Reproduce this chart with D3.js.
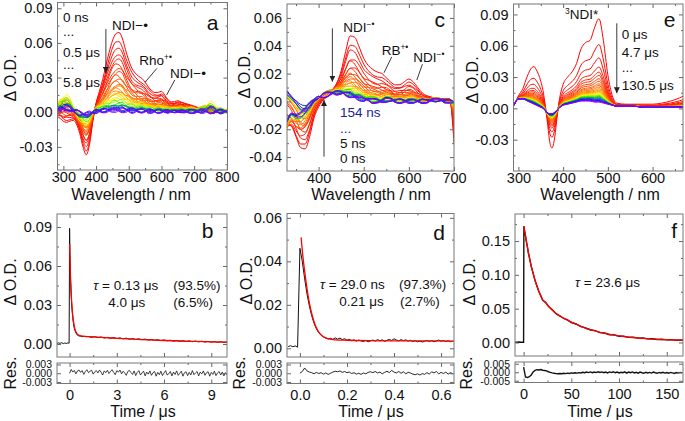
<!DOCTYPE html>
<html>
<head>
<meta charset="utf-8">
<script src="https://cdn.jsdelivr.net/npm/d3@7"></script>
<style>
  body { margin: 0; background: #fff; }
  svg text { font-family: "Liberation Sans", Arial, sans-serif; }
</style>
</head>
<body>
<div id="chart"></div>
<script>
// ---------- panel a : transient spectra (Rho / NDI) ----------
const wlA = [280,290,300,310,320,330,340,350,360,370,380,390,400,410,420,430,440,450,460,470,
  480,490,500,510,520,530,540,550,560,570,580,590,600,610,620,630,640,650,660,670,
  680,690,700,710,720,730,740,750,760,770,780,790,800];
const ndiA = [-0.004,-0.005,-0.008,-0.009,-0.008,-0.007,-0.010,-0.018,-0.030,-0.037,-0.028,-0.008,0.008,0.018,0.028,0.040,0.052,0.062,0.068,0.069,
  0.064,0.054,0.045,0.038,0.034,0.031,0.029,0.026,0.022,0.019,0.017,0.017,0.018,0.015,0.011,0.009,0.009,0.010,0.009,0.008,
  0.007,0.006,0.005,0.004,0.003,0.002,0.001,0.000,0.000,0.000,0.000,0.000,0.000];
const lateA = [0.006,0.010,0.013,0.014,0.011,0.005,0.001,-0.003,-0.005,-0.005,-0.003,0.000,0.002,0.003,0.003,0.004,0.004,0.005,0.005,0.005,
  0.005,0.004,0.004,0.003,0.003,0.003,0.003,0.003,0.002,0.002,0.002,0.002,0.002,0.002,0.002,0.002,0.002,0.002,0.002,0.002,
  0.002,0.002,0.002,0.002,0.003,0.004,0.005,0.006,0.005,0.003,0.002,0.002,0.002];
const noiseA1 = [0.0010,-0.0015,0.0020,0.0025,0.0012,-0.0008,-0.0020,-0.0015,0.0003,0.0012,0.0008,-0.0005,-0.0010,0.0005,0.0015,0.0010,-0.0003,-0.0012,-0.0008,0.0008,
  0.0018,0.0005,-0.0010,-0.0015,-0.0003,0.0010,0.0013,0.0000,-0.0013,-0.0008,0.0008,0.0015,0.0003,-0.0010,-0.0005,0.0010,0.0008,-0.0008,-0.0015,-0.0003,
  0.0013,0.0018,0.0005,-0.0008,-0.0013,0.0003,0.0020,0.0025,0.0008,-0.0010,-0.0015,-0.0005,0.0008];
const noiseA2 = [-0.0020,0.0010,0.0015,-0.0005,-0.0018,-0.0010,0.0008,0.0015,0.0005,-0.0010,-0.0015,0.0003,0.0012,0.0008,-0.0006,-0.0012,0.0000,0.0010,0.0012,0.0002,
  -0.0010,-0.0012,0.0004,0.0012,0.0008,-0.0005,-0.0012,-0.0006,0.0008,0.0012,0.0003,-0.0010,-0.0012,0.0002,0.0012,0.0006,-0.0008,-0.0012,0.0000,0.0010,
  0.0008,-0.0006,-0.0015,-0.0008,0.0010,0.0020,0.0005,-0.0020,-0.0025,-0.0005,0.0012,0.0010,-0.0003];
// amplitude of each trace (0 ns ... 5.8 us)
const ampA = [1,0.88,0.79,0.71,0.64,0.58,0.52,0.47,0.42,0.38,0.34,0.30,0.27,0.24,0.21,0.18,
  0.16,0.14,0.12,0.10,0.085,0.07,0.06,0.05,0.04,0.03,0.025,0.02,0.015,0.01,0.005,0];
const lateAmpA = [0,0.1,0.15,0.2,0.25,0.3,0.35,0.4,0.45,0.5,0.55,0.6,0.65,0.7,0.8,0.85,
  0.9,1,1,0.95,0.85,0.75,0.65,0.55,0.45,0.4,0.35,0.3,0.3,0.25,0.25,0.2];
const kA1 = [0.1,-0.2,0.3,-0.2,0.8,-0.7,0.4,1,-0.6,0.2,-0.9,0.5,1,-0.4,-0.8,0.7,
  0.3,-1,0.8,-0.3,0.6,-0.7,0.9,-0.5,0.4,-1,0.9,-0.6,0.7,-0.8,0.5,-0.4];
const kA2 = [-0.1,0.2,0.1,-0.9,0.5,0.3,-0.6,0.1,0.9,-0.7,0.4,-0.2,0.6,0.8,-0.5,-0.3,
  1,0.2,-0.8,0.6,-0.4,0.9,0.1,-0.7,-0.9,0.5,0.3,0.8,-0.6,0.2,-1,0.7];

// ---------- panel c : transient spectra (RB / NDI) ----------
const wlC = [330,340,350,360,370,380,390,400,410,420,430,440,450,460,470,480,490,500,510,520,
  530,540,550,560,570,580,590,600,610,620,630,640,650,660,670,680,690,700];
const ndiC = [-0.016,-0.018,-0.026,-0.034,-0.035,-0.026,-0.012,-0.004,0.001,0.004,0.008,0.013,0.022,0.036,0.047,0.046,0.039,0.031,0.026,0.023,
  0.021,0.020,0.017,0.014,0.012,0.012,0.014,0.016,0.014,0.010,0.006,0.004,0.003,0.002,0.002,0.002,0.002,-0.030];
const lateC = [-0.004,-0.003,-0.005,-0.006,-0.005,-0.002,0.001,0.003,0.004,0.005,0.006,0.006,0.006,0.005,0.004,0.003,0.002,0.001,0.001,0.000,
  0.000,0.000,0.001,0.001,0.000,0.000,0.000,0.000,0.000,0.000,0.000,0.000,0.001,0.001,0.001,0.000,0.000,0.000];
const noiseC1 = [0.0080,0.0050,0.0060,0.0055,0.0040,0.0020,0.0005,-0.0005,0.0010,0.0015,0.0008,-0.0005,-0.0008,0.0005,0.0012,0.0006,-0.0006,-0.0010,0.0000,0.0010,
  0.0012,0.0002,-0.0010,-0.0012,0.0000,0.0012,0.0010,-0.0004,-0.0012,-0.0006,0.0008,0.0012,0.0004,-0.0008,-0.0010,0.0002,0.0010,0.0006];
const noiseC2 = [-0.0060,-0.0030,0.0000,0.0030,0.0045,0.0040,0.0015,0.0005,-0.0010,-0.0005,0.0008,0.0012,0.0002,-0.0010,-0.0008,0.0006,0.0012,0.0004,-0.0008,-0.0012,
  -0.0002,0.0010,0.0010,-0.0002,-0.0012,-0.0008,0.0006,0.0012,0.0004,-0.0010,-0.0012,0.0000,0.0012,0.0008,-0.0006,-0.0012,-0.0004,0.0008];
const ampC = [1,0.85,0.75,0.62,0.55,0.48,0.42,0.37,0.33,0.29,0.26,0.23,0.20,0.18,0.16,
  0.14,0.12,0.10,0.085,0.07,0.06,0.05,0.04,0.03,0.02,0.015,0.01,0.005,0,0];
const lateAmpC = [0,0.2,0.3,0.4,0.5,0.6,0.7,0.8,0.9,1,1,1,1,1,1,
  1,1,1,1,1,1,1,1,1,1,1,1,1,1,1];
const kC1 = [0.1,-0.2,0.3,-0.5,0.6,-0.4,0.8,-0.7,0.5,-0.9,1,-0.6,0.7,-1,0.9,
  -0.8,0.6,-0.5,1,-0.9,0.8,-1,0.7,-0.6,1,-0.8,0.9,-1,0.6,-0.7];
const kC2 = [0.1,0.2,-0.2,0.5,-0.6,0.7,-0.3,0.4,-0.8,0.6,-0.5,0.9,-0.7,0.3,-0.4,
  1,-0.9,0.8,-0.2,0.5,-1,0.4,-0.6,0.9,-0.3,0.7,-0.8,0.2,-1,0.6];

// ---------- panel e : triplet spectra ----------
const wlE = [290,300,310,320,330,335,340,350,355,360,365,370,375,380,385,390,400,410,420,430,
  440,450,460,470,480,490,500,510,520,540,560,580,600,620,640,660,670];
const tripE = [0.000,0.003,0.010,0.024,0.034,0.036,0.034,0.025,0.017,0.005,-0.010,-0.027,-0.033,-0.027,-0.012,0.004,0.020,0.026,0.030,0.037,
  0.050,0.056,0.058,0.071,0.080,0.060,0.028,0.009,0.003,0.002,0.002,0.003,0.003,0.004,0.006,0.009,0.011];
const lateE = [0.003,0.009,0.009,0.007,0.005,0.004,0.003,0.001,0.000,-0.002,-0.004,-0.005,-0.005,-0.004,-0.002,0.000,0.003,0.004,0.005,0.006,
  0.007,0.007,0.007,0.006,0.006,0.005,0.004,0.003,0.002,0.002,0.002,0.001,0.001,0.001,0.001,0.001,0.001];
const ampE = [1,0.69,0.53,0.42,0.36,0.32,0.28,0.25,0.22,0.20,0.18,0.16,0.145,0.13,
  0.12,0.11,0.10,0.09,0.08,0.07,0.06,0.05,0.04,0.03,0.02,0.015,0.01,0];

// ---------- panel b : kinetics (us) ----------
const tB = [-0.8,-0.7,-0.6,-0.5,-0.4,-0.3,-0.2,-0.1,-0.03,0,0.03,0.06,0.1,0.15,0.2,0.25,0.3,0.4,0.5,0.6,0.7,0.8,0.9,1.0,
  1.2,1.4,1.6,1.8,2.0,2.2,2.4,2.6,2.8,3.0,3.2,3.4,3.6,3.8,4.0,4.2,4.4,4.6,4.8,5.0,5.2,5.4,5.6,5.8,6.0,
  6.2,6.4,6.6,6.8,7.0,7.2,7.4,7.6,7.8,8.0,8.2,8.4,8.6,8.8,9.0,9.2,9.4,9.6,9.8,10.0];
const traceB = [0.0004,0.0009,0.0005,0.0010,0.0003,0.0008,0.0004,0.0009,0.0006,0.0890,0.0640,0.0500,0.0380,0.0275,0.0205,0.0155,0.0120,0.0085,0.0068,0.0062,0.0060,0.0057,0.0060,0.0056,
  0.0058,0.0051,0.0056,0.0049,0.0054,0.0046,0.0051,0.0044,0.0050,0.0042,0.0047,0.0040,0.0045,0.0037,0.0042,0.0035,0.0040,0.0033,0.0038,0.0030,0.0035,0.0029,0.0033,0.0026,0.0031,
  0.0025,0.0029,0.0022,0.0027,0.0021,0.0025,0.0019,0.0024,0.0018,0.0022,0.0017,0.0021,0.0015,0.0020,0.0014,0.0018,0.0013,0.0017,0.0012,0.0016];
const tFitB = [0,0.05,0.1,0.15,0.2,0.3,0.4,0.5,0.6,0.8,1,1.5,2,3,4,5,6,7,8,9,10];
const fitB = [0.077,0.054,0.039,0.029,0.022,0.0135,0.0095,0.0076,0.0067,0.0061,0.0058,0.0055,0.0051,0.0044,0.0037,0.0032,0.0027,0.0023,0.0020,0.0017,0.0015];
const resStepB = 0.1;
const resB = [0.0000,0.0013,0.0004,0.0010,-0.0002,0.0008,0.0011,0.0003,0.0009,-0.0004,0.0006,0.0012,0.0002,0.0007,0.0010,-0.0003,0.0005,0.0009,0.0001,0.0011,
  0.0004,-0.0006,0.0008,0.0002,0.0010,-0.0001,0.0006,0.0012,0.0003,-0.0005,0.0009,0.0004,0.0011,-0.0002,0.0007,0.0001,-0.0007,0.0006,0.0010,0.0002,
  -0.0004,0.0008,-0.0008,0.0003,0.0009,-0.0006,0.0001,0.0007,-0.0009,0.0004,-0.0003,0.0008,-0.0007,0.0002,0.0006,-0.0010,0.0003,-0.0005,0.0007,-0.0008,
  0.0001,0.0009,-0.0006,-0.0002,0.0006,-0.0009,0.0004,-0.0004,0.0008,-0.0007,0.0000,0.0007,-0.0010,0.0002,0.0005,-0.0008,0.0003,-0.0006,0.0009,-0.0005,
  0.0001,0.0006,-0.0009,0.0004,-0.0002,0.0008,-0.0007,0.0002,0.0005,-0.0010,0.0003,-0.0004,0.0007,-0.0008,0.0001,0.0006,-0.0006,0.0004,-0.0009,0.0002,-0.0005];

// ---------- panel d : kinetics (us) ----------
const t0D = -0.05, stepD = 0.01;
const traceD = [0.0008,0.0012,0.0007,0.0011,0.0005,0.0460,0.0400,0.0320,0.0250,0.0195,0.0150,0.0115,0.0090,0.0072,0.0060,0.0052,0.0047,0.0043,0.0046,0.0041,
  0.0048,0.0042,0.0047,0.0040,0.0044,0.0037,0.0041,0.0035,0.0039,0.0033,0.0038,0.0034,0.0031,0.0036,0.0030,0.0034,0.0038,0.0033,0.0040,0.0035,
  0.0039,0.0032,0.0037,0.0041,0.0036,0.0044,0.0038,0.0034,0.0040,0.0035,0.0039,0.0033,0.0037,0.0031,0.0035,0.0030,0.0033,0.0029,0.0032,0.0036,
  0.0031,0.0035,0.0030,0.0034,0.0038,0.0033,0.0036,0.0031,0.0035,0.0030,0.0033];
const tFitD = [0.005,0.01,0.02,0.03,0.04,0.05,0.06,0.07,0.08,0.10,0.12,0.15,0.2,0.3,0.4,0.5,0.655];
const fitD = [0.051,0.045,0.0355,0.0275,0.021,0.016,0.0122,0.0094,0.0074,0.0053,0.0044,0.0039,0.0037,0.0035,0.0034,0.0034,0.0033];
const resStepD = 0.01;
const resD = [0.0000,0.0006,0.0018,0.0008,0.0004,0.0002,-0.0002,0.0003,-0.0001,0.0002,-0.0003,0.0001,-0.0004,0.0000,0.0004,0.0007,0.0005,0.0008,0.0003,0.0006,
  0.0002,0.0004,-0.0001,0.0002,-0.0003,0.0000,-0.0004,0.0001,-0.0002,0.0003,0.0005,0.0002,0.0006,0.0001,0.0004,-0.0002,0.0003,0.0007,0.0002,0.0010,
  0.0004,0.0001,0.0006,0.0000,0.0005,-0.0002,0.0003,0.0001,-0.0003,-0.0005,-0.0002,-0.0006,-0.0001,-0.0004,0.0002,-0.0003,0.0005,0.0001,0.0006,-0.0002,
  0.0003,-0.0001,0.0004,-0.0003,0.0002,-0.0002];

// ---------- panel f : kinetics (us) ----------
const tF = [-9,-7,-5,-3,-1,0,0.3,1,2,3,4,5,6,8,10,12,14,16,18,20,23,26,30,34,38,42,46,50,55,60,
  65,70,75,80,85,90,95,100,105,110,115,120,125,130,135,140,145,150,155,160,167];
const traceF = [0.0005,0.0003,0.0006,0.0004,0.0005,0.0004,0.1720,0.1655,0.1575,0.1485,0.1415,0.1325,0.1265,0.1125,0.1025,0.0915,0.0835,0.0755,0.0695,0.0625,
  0.0595,0.0535,0.0485,0.0425,0.0395,0.0355,0.0335,0.0295,0.0275,0.0235,0.0215,0.0185,0.0175,0.0145,0.0140,0.0115,0.0112,0.0093,0.0092,0.0076,
  0.0078,0.0064,0.0066,0.0053,0.0056,0.0045,0.0048,0.0038,0.0042,0.0033,0.0036];
const tFitF = [0.3,1,2,3,4,5,6,8,10,12,14,16,18,20,23,26,30,34,38,42,46,50,55,60,
  65,70,75,80,85,90,95,100,105,110,115,120,125,130,135,140,145,150,155,160,167];
const fitF = [0.1720,0.1655,0.1575,0.1490,0.1410,0.1330,0.1260,0.1130,0.1020,0.0920,0.0835,0.0755,0.0690,0.0630,0.0590,0.0540,0.0480,0.0430,0.0390,0.0360,
  0.0330,0.0300,0.0270,0.0240,0.0210,0.0190,0.0170,0.0150,0.0135,0.0120,0.0108,0.0097,0.0088,0.0080,0.0072,0.0066,0.0060,0.0055,0.0050,0.0047,
  0.0043,0.0041,0.0038,0.0036,0.0034];
const resStepF = 2;
const resF = [0.0030,-0.0028,-0.0031,-0.0026,-0.0016,0.0002,0.0011,0.0015,0.0013,0.0016,0.0012,0.0010,0.0008,0.0003,-0.0001,-0.0004,-0.0006,-0.0008,-0.0009,-0.0007,
  -0.0009,-0.0006,-0.0008,-0.0005,-0.0007,-0.0004,-0.0006,-0.0003,-0.0005,-0.0002,-0.0004,0.0000,-0.0003,0.0001,-0.0002,0.0002,-0.0003,0.0001,-0.0002,0.0003,
  -0.0001,0.0002,-0.0003,0.0001,-0.0004,0.0002,-0.0002,0.0003,-0.0003,0.0001,-0.0004,0.0000,-0.0003,0.0002,-0.0005,0.0001,-0.0003,0.0002,-0.0004,0.0000,
  -0.0005,0.0001,-0.0003,-0.0006,0.0000,-0.0004,-0.0001,-0.0005,0.0001,-0.0003,-0.0006,-0.0001,-0.0004,0.0000,-0.0005,-0.0002,-0.0006,-0.0001,-0.0004,-0.0007,
  -0.0002,-0.0005,-0.0001,-0.0004];

// ---------- drawing ----------
const W = 685, H = 421;
const svg = d3.select("#chart").append("svg").attr("width", W).attr("height", H);
const defs = svg.append("defs");
defs.append("marker").attr("id", "head").attr("viewBox", "0 0 10 10")
  .attr("refX", 10).attr("refY", 5).attr("markerWidth", 6).attr("markerHeight", 6)
  .attr("markerUnits", "userSpaceOnUse").attr("orient", "auto")
  .append("path").attr("d", "M0,0L10,5L0,10z").attr("fill", "#222");

const TICK_FS = 14.5, RES_FS = 10.5, TITLE_FS = 16, ANN_FS = 13.5;
const fmt = p => d => d3.format("." + p + "f")(d).replace("\u2212", "-");

// rainbow: red (early) -> violet (late)
const rainbow = d3.scaleLinear()
  .domain([0, 0.16, 0.48, 0.6, 0.72, 0.86, 1])
  .range(["#ff0000", "#ff2200", "#ff9c00", "#ffff00", "#00e000", "#1010ff", "#8a00ff"]);

let clipId = 0;
function makeFrame(o) {
  const x = d3.scaleLinear().domain(o.xDomain).range([o.left, o.right]);
  const y = d3.scaleLinear().domain(o.yDomain).range([o.bottom, o.top]);
  const id = "clip" + (clipId++);
  defs.append("clipPath").attr("id", id).append("rect")
    .attr("x", o.left).attr("y", o.top).attr("width", o.right - o.left).attr("height", o.bottom - o.top);
  const plot = svg.append("g").attr("clip-path", `url(#${id})`);
  return { x, y, plot, o };
}

function axisG(axis, tx, ty, fs) {
  return svg.append("g").attr("transform", `translate(${tx},${ty})`).call(axis)
    .attr("font-size", fs || TICK_FS).attr("font-family", null).attr("color", "#666")
    .call(g => g.select(".domain").remove())
    .call(g => g.selectAll("text").attr("fill", "#111"));
}

function drawAxes(p) {
  const { x, y, o } = p;
  axisG(d3.axisBottom(x).tickValues(o.xTicks).tickSize(-4).tickPadding(o.xPad || 1.5)
    .tickFormat(o.xLabels ? o.xFmt : ""), 0, o.bottom);
  axisG(d3.axisBottom(x).tickValues(o.xMinor).tickSize(-2).tickFormat(""), 0, o.bottom);
  axisG(d3.axisTop(x).tickValues(o.xTicks).tickSize(-4).tickFormat(""), 0, o.top);
  axisG(d3.axisTop(x).tickValues(o.xMinor).tickSize(-2).tickFormat(""), 0, o.top);
  axisG(d3.axisLeft(y).tickValues(o.yTicks).tickSize(-4).tickPadding(5).tickFormat(o.yFmt), o.left, 0, o.yFs);
  axisG(d3.axisLeft(y).tickValues(o.yMinor || []).tickSize(-2).tickFormat(""), o.left, 0);
  axisG(d3.axisRight(y).tickValues(o.yTicks).tickSize(-4).tickFormat(""), o.right, 0);
  axisG(d3.axisRight(y).tickValues(o.yMinor || []).tickSize(-2).tickFormat(""), o.right, 0);
  svg.append("rect").attr("x", o.left).attr("y", o.top)
    .attr("width", o.right - o.left).attr("height", o.bottom - o.top)
    .attr("fill", "none").attr("stroke", "#777").attr("stroke-width", 1);
}

function text(x, y, parts, opt = {}) {
  const t = svg.append("text").attr("x", x).attr("y", y)
    .attr("font-size", opt.size || ANN_FS).attr("fill", opt.fill || "#111")
    .attr("text-anchor", opt.anchor || "start");
  parts.forEach(pt => {
    if (typeof pt === "string") { t.append("tspan").text(pt); return; }
    const s = t.append("tspan").text(pt.t);
    if (pt.sup) s.attr("font-size", (opt.size || ANN_FS) * 0.62).attr("dy", -5);
    if (pt.down) s.attr("dy", 5);
    if (pt.it) s.attr("font-style", "italic");
  });
  return t;
}
function yTitle(x, y, s) {
  svg.append("text").attr("transform", `translate(${x},${y}) rotate(-90)`)
    .attr("text-anchor", "middle").attr("font-size", TITLE_FS).attr("fill", "#111").text(s);
}
function xTitle(x, y, s) {
  svg.append("text").attr("x", x).attr("y", y).attr("text-anchor", "middle")
    .attr("font-size", TITLE_FS).attr("fill", "#111").text(s);
}
function arrow(p, x0, y0, x1, y1, head = true) {
  svg.append("line").attr("x1", p.x(x0)).attr("y1", p.y(y0)).attr("x2", p.x(x1)).attr("y2", p.y(y1))
    .attr("stroke", "#222").attr("stroke-width", 0.9)
    .attr("marker-end", head ? "url(#head)" : null);
}

function drawSpectra(p, wl, main, late, amp, lateAmp, n1, n2, k1, k2) {
  const n = amp.length;
  const line = d3.line().x((d, i) => p.x(wl[i])).y(d => p.y(d)).curve(d3.curveMonotoneX);
  amp.forEach((a, j) => {
    const vals = wl.map((w, i) => a * main[i] + (lateAmp ? lateAmp[j] : 1) * late[i]
      + (n1 ? k1[j] * n1[i] + k2[j] * n2[i] : 0));
    p.plot.append("path").datum(vals).attr("d", line)
      .attr("fill", "none").attr("stroke", rainbow(j / (n - 1))).attr("stroke-width", 1);
  });
}

function drawKinetic(p, ts, ys, color, width) {
  const line = d3.line().x((d, i) => p.x(ts[i])).y(d => p.y(d));
  p.plot.append("path").datum(ys).attr("d", line).attr("fill", "none")
    .attr("stroke", color).attr("stroke-width", width);
}
function drawFit(p, ts, ys) {
  const line = d3.line().x((d, i) => p.x(ts[i])).y(d => p.y(d)).curve(d3.curveMonotoneX);
  p.plot.append("path").datum(ys).attr("d", line).attr("fill", "none")
    .attr("stroke", "#ff0000").attr("stroke-width", 1.3);
}
function drawRes(p, step, ys, width) {
  const line = d3.line().x((d, i) => p.x(i * step)).y(d => p.y(d));
  p.plot.append("path").datum(ys).attr("d", line).attr("fill", "none")
    .attr("stroke", "#111").attr("stroke-width", width);
}

// ----- panel a -----
const pa = makeFrame({ left: 57.5, right: 227.5, top: 2.5, bottom: 170, xDomain: [282, 802], yDomain: [-0.05, 0.095],
  xTicks: [300,400,500,600,700,800], xMinor: [350,450,550,650,750], xLabels: true, xFmt: d3.format("d"),
  yTicks: [-0.03,0,0.03,0.06,0.09], yMinor: [-0.045,-0.015,0.015,0.045,0.075], yFmt: fmt(2) });
drawSpectra(pa, wlA, ndiA, lateA, ampA, lateAmpA, noiseA1, noiseA2, kA1, kA2);
drawAxes(pa);

// ----- panel c -----
const pc = makeFrame({ left: 287, right: 454, top: 4, bottom: 171, xDomain: [330, 700], yDomain: [-0.05, 0.07],
  xTicks: [400,500,600,700], xMinor: [350,450,550,650], xLabels: true, xFmt: d3.format("d"),
  yTicks: [-0.04,-0.02,0,0.02,0.04,0.06], yMinor: [-0.03,-0.01,0.01,0.03,0.05], yFmt: fmt(2) });
drawSpectra(pc, wlC, ndiC, lateC, ampC, lateAmpC, noiseC1, noiseC2, kC1, kC2);
drawAxes(pc);

// ----- panel e -----
const pe = makeFrame({ left: 513.5, right: 683, top: 4, bottom: 171, xDomain: [289, 668], yDomain: [-0.06, 0.10],
  xTicks: [300,400,500,600], xMinor: [350,450,550,650], xLabels: true, xFmt: d3.format("d"),
  yTicks: [-0.03,0,0.03,0.06,0.09], yMinor: [-0.045,-0.015,0.015,0.045,0.075], yFmt: fmt(2) });
drawSpectra(pe, wlE, tripE, lateE, ampE, null, null, null, null, null);
drawAxes(pe);

// ----- panel b -----
const pb = makeFrame({ left: 57, right: 227, top: 214, bottom: 357, xDomain: [-0.8, 10], yDomain: [-0.01, 0.10],
  xTicks: [0,3,6,9], xMinor: [1.5,4.5,7.5], xLabels: false,
  yTicks: [0,0.03,0.06,0.09], yMinor: [0.015,0.045,0.075], yFmt: fmt(2) });
drawKinetic(pb, tB, traceB, "#111", 1);
drawFit(pb, tFitB, fitB);
drawAxes(pb);
const rb = makeFrame({ left: 57, right: 227, top: 363, bottom: 383.5, xDomain: [-0.8, 10], yDomain: [-0.0035, 0.0035],
  xTicks: [0,3,6,9], xMinor: [1.5,4.5,7.5], xLabels: true, xFmt: d3.format("d"), xPad: 6,
  yTicks: [-0.003,0,0.003], yFmt: fmt(3), yFs: RES_FS });
drawRes(rb, resStepB, resB, 0.8);
drawAxes(rb);

// ----- panel d -----
const pd = makeFrame({ left: 287, right: 454, top: 213.5, bottom: 357, xDomain: [-0.055, 0.655], yDomain: [-0.004, 0.062],
  xTicks: [0,0.2,0.4,0.6], xMinor: [0.1,0.3,0.5], xLabels: false,
  yTicks: [0,0.02,0.04,0.06], yMinor: [0.01,0.03,0.05], yFmt: fmt(2) });
drawKinetic(pd, traceD.map((d, i) => t0D + i * stepD), traceD, "#111", 1);
drawFit(pd, tFitD, fitD);
drawAxes(pd);
const rd = makeFrame({ left: 287, right: 454, top: 363, bottom: 383.5, xDomain: [-0.055, 0.655], yDomain: [-0.0035, 0.0035],
  xTicks: [0,0.2,0.4,0.6], xMinor: [0.1,0.3,0.5], xLabels: true, xFmt: fmt(1), xPad: 6,
  yTicks: [-0.003,0,0.003], yFmt: fmt(3), yFs: RES_FS });
drawRes(rd, resStepD, resD, 0.9);
drawAxes(rd);

// ----- panel f -----
const pf = makeFrame({ left: 515, right: 683, top: 214, bottom: 356, xDomain: [-9, 167], yDomain: [-0.02, 0.19],
  xTicks: [0,50,100,150], xMinor: [25,75,125], xLabels: false,
  yTicks: [0,0.05,0.10,0.15], yMinor: [0.025,0.075,0.125,0.175], yFmt: fmt(2) });
drawKinetic(pf, tF, traceF, "#111", 1.4);
drawFit(pf, tFitF, fitF);
drawAxes(pf);
const rf = makeFrame({ left: 515, right: 683, top: 362, bottom: 382.5, xDomain: [-9, 167], yDomain: [-0.006, 0.006],
  xTicks: [0,50,100,150], xMinor: [25,75,125], xLabels: true, xFmt: d3.format("d"), xPad: 6,
  yTicks: [-0.005,0,0.005], yFmt: fmt(3), yFs: RES_FS });
drawRes(rf, resStepF, resF, 1.4);
drawAxes(rf);

// ----- titles -----
yTitle(15.5, 78, "\u0394 O.D.");
yTitle(250, 75, "\u0394 O.D.");
yTitle(478, 80, "\u0394 O.D.");
yTitle(15.5, 282, "\u0394 O.D.");
yTitle(252, 281, "\u0394 O.D.");
yTitle(475, 282, "\u0394 O.D.");
yTitle(15.5, 373, "Res.");
yTitle(245, 373, "Res.");
yTitle(472, 373, "Res.");
xTitle(131, 199.5, "Wavelength / nm");
xTitle(371, 199.5, "Wavelength / nm");
xTitle(600, 199.5, "Wavelength / nm");
xTitle(143, 417, "Time / \u03bcs");
xTitle(371, 417, "Time / \u03bcs");
xTitle(600, 417, "Time / \u03bcs");

// panel letters
[["a", 218.5, 30], ["c", 445, 26.7], ["e", 675.5, 26.7], ["b", 213.5, 238.3], ["d", 445, 240], ["f", 677, 238.3]]
  .forEach(([s, x, y]) => text(x, y, [s], { size: 21, anchor: "end" }));

// ----- annotations a -----
text(63, 21.5, ["0 ns"]);
text(63, 36, ["..."]);
text(63, 56.5, ["0.5 \u03bcs"]);
text(63, 69, ["..."]);
text(63, 86.5, ["5.8 \u03bcs"]);
text(112, 30, ["NDI\u2212\u2022"]);
text(139.3, 65, ["Rho", { t: "+\u2022", sup: true }]);
text(170, 78.3, ["NDI\u2212\u2022"]);
arrow(pa, 430, 0.072, 430, 0.034);
arrow(pa, 586, 0.038, 550, 0.026, false);
arrow(pa, 641, 0.028, 616, 0.015, false);

// ----- annotations c -----
text(343.3, 31.7, ["NDI", { t: "\u2212\u2022", sup: true }]);
text(381.7, 55, ["RB", { t: "+\u2022", sup: true }]);
text(413.3, 61.7, ["NDI", { t: "\u2212\u2022", sup: true }]);
text(340, 116.7, ["154 ns"], { fill: "#1c1c9c" });
text(340, 132.7, ["..."], { fill: "#1c1c9c" });
text(340, 148.3, ["5 ns"]);
text(340, 163.3, ["0 ns"]);
arrow(pc, 430.5, 0.0525, 430.5, 0.0142);
arrow(pc, 412, -0.0397, 412, 0.001);
arrow(pc, 562, 0.032, 545, 0.0206, false);
arrow(pc, 630, 0.0267, 617.6, 0.0154, false);

// ----- annotations e -----
text(565, 19.3, [{ t: "3", sup: true }, { t: "NDI*", down: true }]);
text(621.7, 39.3, ["0 \u03bcs"]);
text(621.7, 57.3, ["4.7 \u03bcs"]);
text(621.7, 71.7, ["..."]);
text(621.7, 90, ["130.5 \u03bcs"]);
arrow(pe, 520, 0.0815, 520, 0.0145);

// ----- annotations b, d, f -----
text(93.3, 290, [{ t: "\u03c4", it: true }, " = 0.13 \u03bcs"]);
text(173.3, 290, ["(93.5%)"]);
text(108.3, 306.7, ["4.0 \u03bcs"]);
text(173.3, 306.7, ["(6.5%)"]);
text(320, 289, [{ t: "\u03c4", it: true }, " = 29.0 ns"]);
text(399, 289, ["(97.3%)"]);
text(339.3, 305.7, ["0.21 \u03bcs"]);
text(400, 305.7, ["(2.7%)"]);
text(575, 287.3, [{ t: "\u03c4", it: true }, " = 23.6 \u03bcs"]);
</script>
</body>
</html>
